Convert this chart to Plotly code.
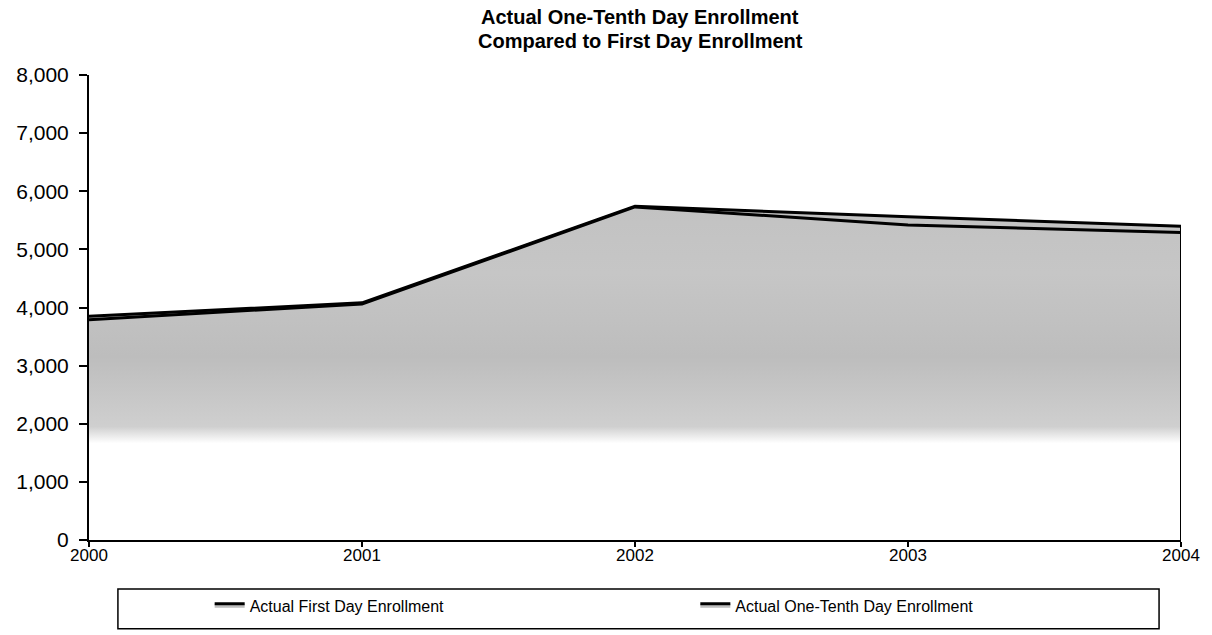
import plotly.graph_objects as go

# Enrollment by school year
years = [2000, 2001, 2002, 2003, 2004]
first_day = [3850, 4080, 5740, 5560, 5400]
one_tenth_day = [3790, 4060, 5730, 5420, 5290]
y_ticks = [0, 1000, 2000, 3000, 4000, 5000, 6000, 7000, 8000]
title_lines = ["Actual One-Tenth Day Enrollment", "Compared to First Day Enrollment"]

# Stipple-like grey fill that fades out toward the bottom of the area
grey_fade = [[0.0, "#ffffff"], [0.29, "#ffffff"], [0.34, "#cfcfcf"],
             [0.55, "#bdbdbd"], [0.8, "#c6c6c6"], [1.0, "#c2c2c2"]]

fig = go.Figure()
fig.add_trace(go.Scatter(
    x=years, y=first_day, name="Actual First Day Enrollment",
    mode="lines", fill="tozeroy", legend="legend",
    line=dict(color="#000000", width=3),
    fillgradient=dict(type="vertical", colorscale=grey_fade, start=0, stop=max(first_day)),
    fillcolor="#c8c8c8",
))
fig.add_trace(go.Scatter(
    x=years, y=one_tenth_day, name="Actual One-Tenth Day Enrollment",
    mode="lines", fill="tozeroy", legend="legend2",
    line=dict(color="#000000", width=3),
    fillgradient=dict(type="vertical", colorscale=grey_fade, start=0, stop=max(first_day)),
    fillcolor="#c8c8c8",
))

# Closing edge of the area at the last year
fig.add_shape(type="line", xref="x", yref="y",
              x0=years[-1], x1=years[-1], y0=0, y1=first_day[-1],
              line=dict(color="#000000", width=2))

# Legend frame
fig.add_shape(type="rect", xref="paper", yref="paper",
              x0=(118 - 89) / 1095, x1=(1162 - 89) / 1095,
              y0=-(630 - 541) / 466, y1=-(590 - 541) / 466,
              line=dict(color="#000000", width=1.5), fillcolor="rgba(0,0,0,0)")

# Two-line chart title
for line_text, y_px in zip(title_lines, [17, 41]):
    fig.add_annotation(
        text=f"<b>{line_text}</b>",
        xref="paper", yref="paper",
        x=(642 - 89) / 1095, y=(541 - y_px) / 466, xanchor="center", yanchor="middle",
        showarrow=False, font=dict(size=20, color="#000000"),
    )

legend_style = dict(
    orientation="h", xanchor="left", yanchor="middle",
    y=-(607 - 541) / 466,
    font=dict(size=16, color="#000000"),
    bgcolor="rgba(0,0,0,0)", borderwidth=0,
)

fig.update_layout(
    width=1212, height=635,
    margin=dict(l=89, r=28, t=75, b=94),
    paper_bgcolor="#ffffff", plot_bgcolor="#ffffff",
    font=dict(family="Liberation Sans, Arial, sans-serif", color="#000000"),
    showlegend=True,
    legend=dict(x=(210 - 89) / 1095, **legend_style),
    legend2=dict(x=(697 - 89) / 1095, **legend_style),
    xaxis=dict(
        range=[years[0], years[-1]], tickvals=years, ticktext=[str(y) for y in years],
        showgrid=False, zeroline=False,
        showline=True, linecolor="#000000", linewidth=2,
        ticks="outside", ticklen=5, tickwidth=1.5, tickcolor="#000000",
        ticklabelstandoff=-6,
        tickfont=dict(size=17, color="#000000"),
    ),
    yaxis=dict(
        range=[0, 8000], tickvals=y_ticks, tickformat=",",
        showgrid=False, zeroline=False,
        showline=True, linecolor="#000000", linewidth=2,
        ticks="outside", ticklen=8, tickwidth=1.5, tickcolor="#000000",
        ticklabelstandoff=6,
        tickfont=dict(size=21, color="#000000"),
    ),
)

fig.write_html("out.html")
